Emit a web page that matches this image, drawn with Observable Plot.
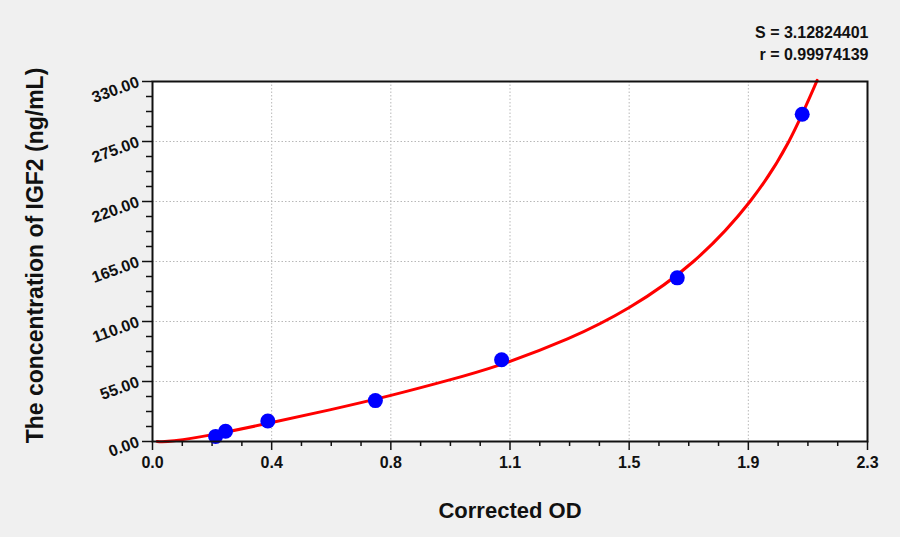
<!DOCTYPE html>
<html>
<head>
<meta charset="utf-8">
<script src="https://cdn.jsdelivr.net/npm/d3@7"></script>
<script src="https://cdn.jsdelivr.net/npm/@observablehq/plot@0.6"></script>
<style>
  html, body { margin: 0; padding: 0; background: #f0f0f0; }
  #chart { width: 900px; height: 537px; }
</style>
</head>
<body>
<div id="chart"></div>
<script>
// Standard points (Corrected OD vs concentration)
const pointOD = [0.203, 0.235, 0.371, 0.717, 1.123, 1.688, 2.090];
const pointConc = [4.69, 9.38, 18.75, 37.5, 75, 150, 300];

// Fitted curve
const curveOD = [0.015, 0.07, 0.21, 0.38, 0.57, 0.77, 0.95, 1.12, 1.335, 1.535, 1.74, 1.922, 2.047, 2.138];
const curveConc = [0, 0.6, 7.2, 17.2, 29, 42.5, 56, 70.5, 94, 123, 165, 220, 275, 331];

// Tick values and labels
const xTickValues = [0, 2.3 / 6, 2 * 2.3 / 6, 3 * 2.3 / 6, 4 * 2.3 / 6, 5 * 2.3 / 6, 2.3];
const xTickLabels = ["0.0", "0.4", "0.8", "1.1", "1.5", "1.9", "2.3"];
const yTickValues = [0, 55, 110, 165, 220, 275, 330];
const yTickLabels = ["0.00", "55.00", "110.00", "165.00", "220.00", "275.00", "330.00"];

const xLabel = "Corrected OD";
const yLabel = "The concentration of IGF2 (ng/mL)";
const statS = "S = 3.12824401";
const statR = "r = 0.99974139";

const points = pointOD.map((x, i) => ({x, y: pointConc[i]}));
const curve = curveOD.map((x, i) => ({x, y: curveConc[i]}));

const xStep = (xTickValues[1] - xTickValues[0]) / 4;
const xMinor = d3.range(0, 24).map(i => i * xStep).filter((d, i) => i % 4 !== 0);
const yMinor = d3.range(0, 24).map(i => i * 13.75).filter((d, i) => i % 4 !== 0);

const font = "'Liberation Sans', Arial, sans-serif";

const chart = Plot.plot({
  width: 900,
  height: 537,
  marginLeft: 152,
  marginRight: 33,
  marginTop: 81,
  marginBottom: 96,
  style: {background: "#f0f0f0", fontFamily: font, fontSize: "16px", fontWeight: "bold", color: "#111"},
  x: {domain: [0, 2.3]},
  y: {domain: [0, 330]},
  marks: [
    Plot.frame({fill: "white", stroke: null}),
    Plot.gridX(xTickValues.slice(1, -1), {stroke: "#b8b8b8", strokeOpacity: 1, strokeDasharray: "1.5,2"}),
    Plot.gridY(yTickValues.slice(1, -1), {stroke: "#b8b8b8", strokeOpacity: 1, strokeDasharray: "1.5,2"}),
    Plot.axisX(xMinor, {tickSize: 5, text: null, label: null, stroke: "#111", strokeWidth: 1.5}),
    Plot.axisX(xTickValues, {
      tickSize: 9, tickPadding: 6, label: null, stroke: "#111", strokeWidth: 1.5,
      tickFormat: d => xTickLabels[xTickValues.indexOf(d)],
      fontSize: 16, fontWeight: "bold", fill: "#111"
    }),
    Plot.axisY(yMinor, {tickSize: 6, text: null, label: null, stroke: "#111", strokeWidth: 1.5}),
    Plot.axisY(yTickValues, {
      tickSize: 10, tickPadding: 4, label: null, stroke: "#111", strokeWidth: 1.5,
      tickRotate: -20,
      tickFormat: d => yTickLabels[yTickValues.indexOf(d)],
      fontSize: 16, fontWeight: "bold", fill: "#111"
    }),
    Plot.line(curve, {x: "x", y: "y", stroke: "#ff0000", strokeWidth: 3, curve: "natural"}),
    Plot.dot(points, {x: "x", y: "y", r: 7.5, fill: "#0000ff", stroke: null}),
    Plot.frame({stroke: "#111", strokeWidth: 2}),
    Plot.text([xLabel], {frameAnchor: "bottom", dy: 76, fontSize: 22, fontWeight: "bold", fill: "#111"}),
    Plot.text([yLabel], {frameAnchor: "left", textAnchor: "middle", rotate: -90, dx: -117, dy: -6, fontSize: 23, fontWeight: "bold", fill: "#111"}),
    Plot.text([statS], {frameAnchor: "top-right", textAnchor: "end", lineAnchor: "bottom", dx: 1, dy: -44, fontSize: 16, fontWeight: "bold", fill: "#111"}),
    Plot.text([statR], {frameAnchor: "top-right", textAnchor: "end", lineAnchor: "bottom", dx: 1, dy: -22, fontSize: 16, fontWeight: "bold", fill: "#111"})
  ]
});
document.getElementById("chart").appendChild(chart);
</script>
</body>
</html>
